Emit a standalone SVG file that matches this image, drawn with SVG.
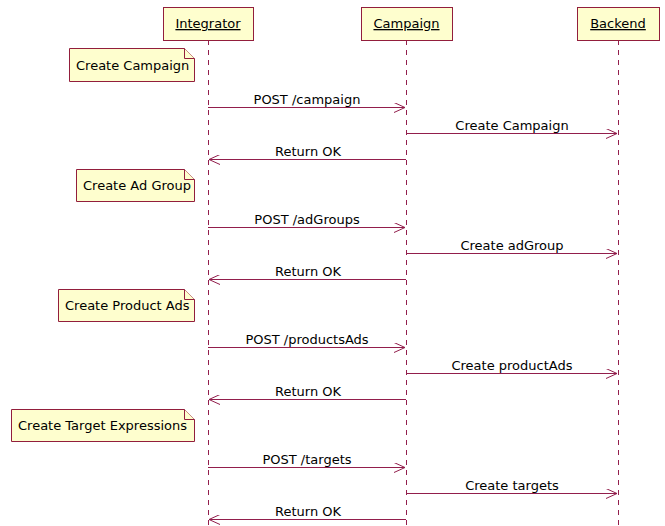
<svg xmlns="http://www.w3.org/2000/svg" width="665" height="526" viewBox="0 0 665 526">
<defs>
<marker id="ah" markerWidth="12" markerHeight="10" refX="11" refY="5" orient="auto" markerUnits="userSpaceOnUse">
<path d="M0,0 L11,5 L0,10" fill="none" stroke="#921E4C" stroke-width="1"/>
</marker>
</defs>
<style>
text{font-family:"DejaVu Sans",sans-serif;font-size:13px;fill:#000}
.box{fill:#FEFECE;stroke:#921E3C;stroke-width:1}
.life{stroke:#921E4C;stroke-width:1;stroke-dasharray:5,5}
.msg{stroke:#921E4C;stroke-width:1;fill:none;marker-end:url(#ah)}
.note{fill:#FEFECE;stroke:#921E3C;stroke-width:1}
.u{text-decoration:underline}
</style>
<rect width="665" height="526" fill="#fff"/>
<g id="lifelines">
<line class="life" x1="208.5" y1="40" x2="208.5" y2="526"/>
<line class="life" x1="406.5" y1="40" x2="406.5" y2="526"/>
<line class="life" x1="618.5" y1="40" x2="618.5" y2="526"/>
</g>
<g id="integrator"><rect class="box" x="163.5" y="7.5" width="90" height="33"/><text class="u" x="208" y="28" text-anchor="middle">Integrator</text></g>
<g id="campaign"><rect class="box" x="361.5" y="7.5" width="91" height="33"/><text class="u" x="406.5" y="28" text-anchor="middle">Campaign</text></g>
<g id="backend"><rect class="box" x="577.5" y="7.5" width="82" height="33"/><text class="u" x="618" y="28" text-anchor="middle">Backend</text></g>
<g id="note1"><path class="note" d="M69.5,48.5 H184.5 L194.5,58.5 V81.5 H69.5 Z"/><path class="note" d="M184.5,48.5 V58.5 H194.5" fill="none"/><text x="76" y="70">Create Campaign</text></g>
<g id="note2"><path class="note" d="M76.5,169.5 H184.5 L194.5,179.5 V201.5 H76.5 Z"/><path class="note" d="M184.5,169.5 V179.5 H194.5" fill="none"/><text x="83" y="190">Create Ad Group</text></g>
<g id="note3"><path class="note" d="M58.5,289.5 H184.5 L194.5,299.5 V321.5 H58.5 Z"/><path class="note" d="M184.5,289.5 V299.5 H194.5" fill="none"/><text x="65" y="310">Create Product Ads</text></g>
<g id="note4"><path class="note" d="M11.5,409.5 H184.5 L194.5,419.5 V441.5 H11.5 Z"/><path class="note" d="M184.5,409.5 V419.5 H194.5" fill="none"/><text x="18" y="430">Create Target Expressions</text></g>
<g id="connectors">
<line class="msg" x1="208" y1="107.5" x2="405" y2="107.5"/><text x="307" y="104" text-anchor="middle">POST /campaign</text>
<line class="msg" x1="406" y1="133.5" x2="617" y2="133.5"/><text x="512" y="130" text-anchor="middle">Create Campaign</text>
<line class="msg" x1="406" y1="159.5" x2="209" y2="159.5"/><text x="308" y="156" text-anchor="middle">Return OK</text>
<line class="msg" x1="208" y1="227.5" x2="405" y2="227.5"/><text x="307" y="224" text-anchor="middle">POST /adGroups</text>
<line class="msg" x1="406" y1="253.5" x2="617" y2="253.5"/><text x="512" y="250" text-anchor="middle">Create adGroup</text>
<line class="msg" x1="406" y1="279.5" x2="209" y2="279.5"/><text x="308" y="276" text-anchor="middle">Return OK</text>
<line class="msg" x1="208" y1="347.5" x2="405" y2="347.5"/><text x="307" y="344" text-anchor="middle">POST /productsAds</text>
<line class="msg" x1="406" y1="373.5" x2="617" y2="373.5"/><text x="512" y="370" text-anchor="middle">Create productAds</text>
<line class="msg" x1="406" y1="399.5" x2="209" y2="399.5"/><text x="308" y="396" text-anchor="middle">Return OK</text>
<line class="msg" x1="208" y1="467.5" x2="405" y2="467.5"/><text x="307" y="464" text-anchor="middle">POST /targets</text>
<line class="msg" x1="406" y1="493.5" x2="617" y2="493.5"/><text x="512" y="490" text-anchor="middle">Create targets</text>
<line class="msg" x1="406" y1="519.5" x2="209" y2="519.5"/><text x="308" y="516" text-anchor="middle">Return OK</text>
</g>
</svg>
